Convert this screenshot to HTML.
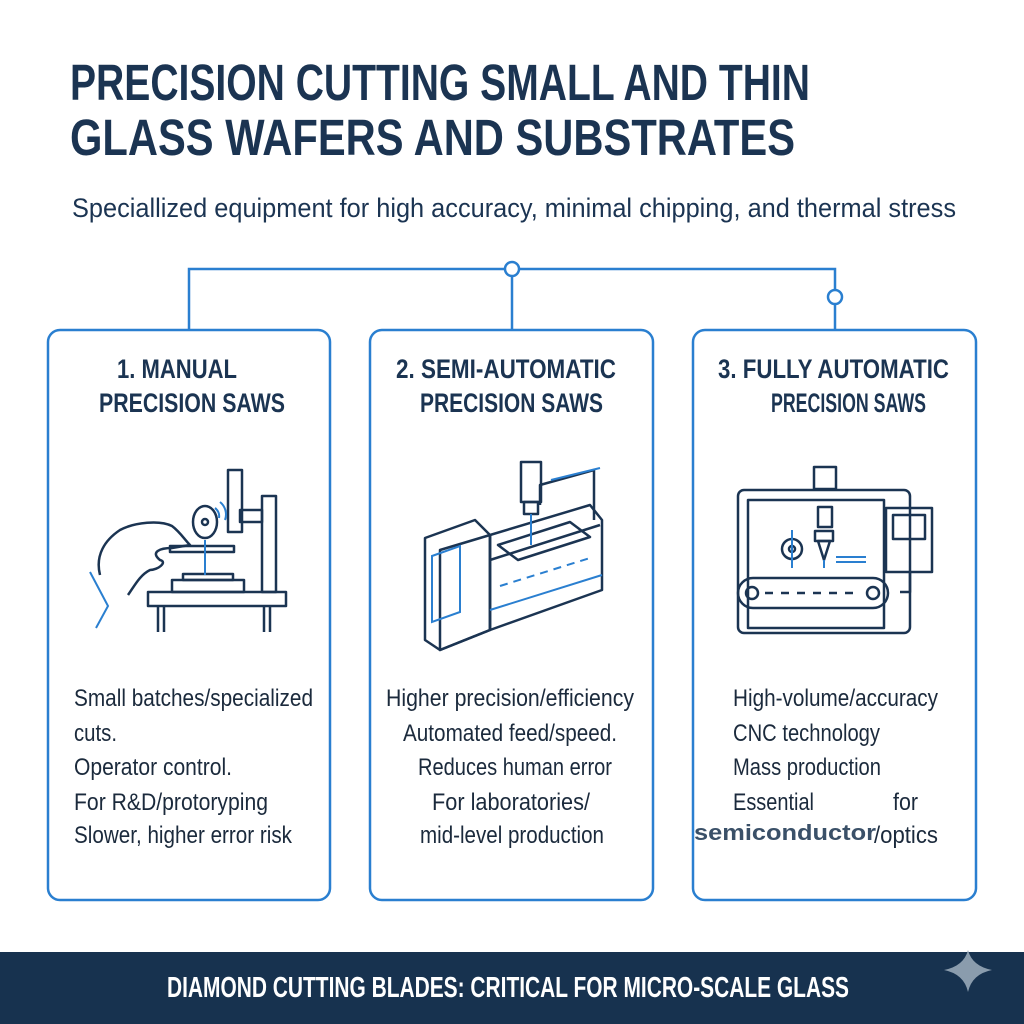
<!DOCTYPE html>
<html><head><meta charset="utf-8"><style>
html,body{margin:0;padding:0;background:#fff;}
svg{display:block;}
</style></head><body>
<svg width="1024" height="1024" viewBox="0 0 1024 1024" xmlns="http://www.w3.org/2000/svg" font-family="Liberation Sans, sans-serif">
<rect width="1024" height="1024" fill="#fff"/>
<g fill="#1b3452" font-weight="bold" font-size="51">
<text x="70" y="100" textLength="740" lengthAdjust="spacingAndGlyphs">PRECISION CUTTING SMALL AND THIN</text>
<text x="70" y="155" textLength="725" lengthAdjust="spacingAndGlyphs">GLASS WAFERS AND SUBSTRATES</text>
</g>
<text x="72" y="217" font-size="27" fill="#1b3452" textLength="884" lengthAdjust="spacingAndGlyphs">Speciallized equipment for high accuracy, minimal chipping, and thermal stress</text>
<g stroke="#2a7fd0" stroke-width="2.5" fill="none">
<polyline points="189,330 189,269 835,269 835,290"/>
<line x1="512" y1="276" x2="512" y2="330"/>
<line x1="835" y1="304" x2="835" y2="330"/>
<circle cx="512" cy="269" r="7" fill="#fff"/>
<circle cx="835" cy="297" r="7" fill="#fff"/>
</g>
<g stroke="#2a7fd0" stroke-width="2.5" fill="#fff">
<rect x="48" y="330" width="282" height="570" rx="12"/>
<rect x="370" y="330" width="283" height="570" rx="12"/>
<rect x="693" y="330" width="283" height="570" rx="12"/>
</g>
<g fill="#1b3452" font-weight="bold" font-size="27">
<text x="117" y="378" textLength="120" lengthAdjust="spacingAndGlyphs">1. MANUAL</text>
<text x="99" y="412" textLength="186" lengthAdjust="spacingAndGlyphs">PRECISION SAWS</text>
<text x="396" y="378" textLength="220" lengthAdjust="spacingAndGlyphs">2. SEMI-AUTOMATIC</text>
<text x="420" y="412" textLength="183" lengthAdjust="spacingAndGlyphs">PRECISION SAWS</text>
<text x="718" y="378" textLength="231" lengthAdjust="spacingAndGlyphs">3. FULLY AUTOMATIC</text>
<text x="771" y="412" textLength="155" lengthAdjust="spacingAndGlyphs">PRECISION SAWS</text>
</g>
<g fill="#1b2a3c" font-size="24">
<text x="74" y="706" textLength="239" lengthAdjust="spacingAndGlyphs">Small batches/specialized</text>
<text x="74" y="741" textLength="43" lengthAdjust="spacingAndGlyphs">cuts.</text>
<text x="74" y="775" textLength="158" lengthAdjust="spacingAndGlyphs">Operator control.</text>
<text x="74" y="810" textLength="194" lengthAdjust="spacingAndGlyphs">For R&amp;D/protoryping</text>
<text x="74" y="843" textLength="218" lengthAdjust="spacingAndGlyphs">Slower, higher error risk</text>
<text x="386" y="706" textLength="248" lengthAdjust="spacingAndGlyphs">Higher precision/efficiency</text>
<text x="403" y="741" textLength="214" lengthAdjust="spacingAndGlyphs">Automated feed/speed.</text>
<text x="418" y="775" textLength="194" lengthAdjust="spacingAndGlyphs">Reduces human error</text>
<text x="432" y="810" textLength="158" lengthAdjust="spacingAndGlyphs">For laboratories/</text>
<text x="420" y="843" textLength="184" lengthAdjust="spacingAndGlyphs">mid-level production</text>
<text x="733" y="706" textLength="205" lengthAdjust="spacingAndGlyphs">High-volume/accuracy</text>
<text x="733" y="741" textLength="147" lengthAdjust="spacingAndGlyphs">CNC technology</text>
<text x="733" y="775" textLength="148" lengthAdjust="spacingAndGlyphs">Mass production</text>
<text x="733" y="810" textLength="81" lengthAdjust="spacingAndGlyphs">Essential</text>
<text x="893" y="810" textLength="25" lengthAdjust="spacingAndGlyphs">for</text>
<text x="874" y="843" textLength="64" lengthAdjust="spacingAndGlyphs">/optics</text>
</g>
<text x="694" y="840" font-size="22" font-weight="bold" fill="#3a5068" textLength="182" lengthAdjust="spacingAndGlyphs">semiconductor</text>
<g fill="none" stroke="#1b3452" stroke-width="2.5" stroke-linejoin="round">
<rect x="148" y="592" width="138" height="14"/>
<line x1="158" y1="606" x2="158" y2="632"/><line x1="164" y1="606" x2="164" y2="632"/>
<line x1="264" y1="606" x2="264" y2="632"/><line x1="270" y1="606" x2="270" y2="632"/>
<rect x="172" y="580" width="72" height="12"/>
<rect x="183" y="574" width="50" height="6"/>
<rect x="262" y="496" width="14" height="96"/>
<rect x="240" y="510" width="22" height="12"/>
<rect x="228" y="470" width="14" height="62"/>
<ellipse cx="205" cy="522" rx="12" ry="16"/>
<circle cx="205" cy="522" r="3"/>
<rect x="170" y="546" width="64" height="6"/>
<path d="M100,575 C95,555 105,540 120,530 C135,522 160,520 172,526 C180,532 185,540 190,545 L172,548 C160,548 150,552 160,560 C168,562 158,570 150,570 C140,575 135,585 128,595"/>
</g>
<g fill="none" stroke="#2a7fd0" stroke-width="2">
<line x1="205" y1="540" x2="205" y2="575"/>
<path d="M215,508 a10,10 0 0 1 4,10 M220,502 a16,16 0 0 1 5,18"/>
<polyline points="90,572 108,606 96,628"/>
</g>
<g fill="none" stroke="#1b3452" stroke-width="2.5" stroke-linejoin="round">
<polygon points="425,538 475,520 490,535 490,630 440,650 425,640"/>
<polygon points="440,550 490,535 490,630 440,650"/>
<polygon points="490,535 590,505 602,520 602,590 490,630"/>
<polyline points="490,560 600,525"/>
<polyline points="540,505 540,485 594,470 594,520"/>
<rect x="521" y="462" width="20" height="40"/>
<rect x="524" y="502" width="14" height="12"/>
<polygon points="498,545 570,522 590,537 518,560"/>
</g>
<g fill="none" stroke="#2a7fd0" stroke-width="2">
<polygon points="432,556 460,546 460,612 432,622"/>
<line x1="551" y1="480" x2="600" y2="468"/>
<line x1="531" y1="514" x2="531" y2="545"/>
<line x1="500" y1="586" x2="590" y2="558" stroke-dasharray="8,6"/>
<polyline points="490,610 602,575"/>
</g>
<g fill="none" stroke="#1b3452" stroke-width="2.5" stroke-linejoin="round">
<rect x="814" y="467" width="22" height="22"/>
<rect x="738" y="490" width="172" height="143" rx="6"/>
<rect x="748" y="500" width="136" height="128"/>
<rect x="886" y="508" width="46" height="64"/>
<rect x="893" y="515" width="32" height="24"/>
<rect x="818" y="507" width="14" height="20"/>
<rect x="815" y="531" width="18" height="10"/>
<polygon points="818,541 830,541 824,560"/>
<circle cx="792" cy="549" r="10"/><circle cx="792" cy="549" r="3"/>
<rect x="738" y="578" width="150" height="30" rx="15"/>
<circle cx="752" cy="593" r="6"/><circle cx="873" cy="593" r="6"/>
<line x1="765" y1="593" x2="860" y2="593" stroke-dasharray="8,8"/>
<path d="M910,572 L910,592 L900,592"/>
</g>
<g fill="none" stroke="#2a7fd0" stroke-width="2">
<line x1="836" y1="557" x2="866" y2="557"/><line x1="836" y1="562" x2="866" y2="562"/>
<line x1="792" y1="530" x2="792" y2="568"/><line x1="824" y1="560" x2="824" y2="568"/>
</g>
<rect x="0" y="952" width="1024" height="72" fill="#17324f"/>
<text x="167" y="997" font-size="29" font-weight="bold" fill="#fff" textLength="682" lengthAdjust="spacingAndGlyphs">DIAMOND CUTTING BLADES: CRITICAL FOR MICRO-SCALE GLASS</text>
<path d="M968,950 Q972,966 992,970 Q972,974 968,992 Q964,974 944,970 Q964,966 968,950 Z" fill="#8a9cad"/>
</svg>
</body></html>
